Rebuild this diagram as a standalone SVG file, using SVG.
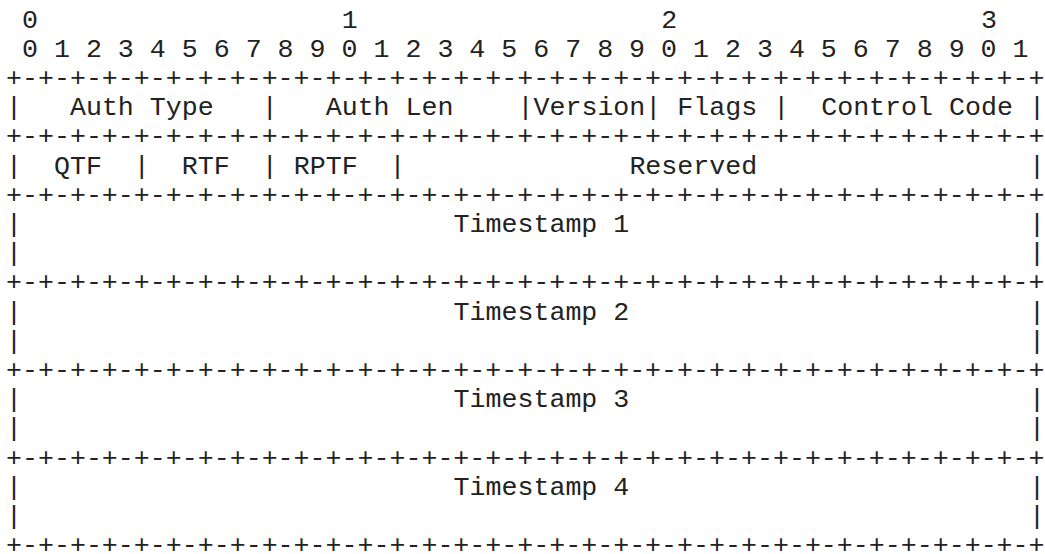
<svg xmlns="http://www.w3.org/2000/svg" width="1045" height="554" viewBox="0 0 1045 554">
<style>
text{font-family:"Liberation Mono","Courier New",monospace;font-size:26.64px;fill:#222;white-space:pre}
</style>
<rect width="1045" height="554" fill="#fff"/>
<g id="ruler">
<text x="21.98" y="27.5">0</text>
<text x="341.66" y="27.5">1</text>
<text x="661.34" y="27.5">2</text>
<text x="981.02" y="27.5">3</text>
<text x="21.98" y="56.7" xml:space="preserve">0 1 2 3 4 5 6 7 8 9 0 1 2 3 4 5 6 7 8 9 0 1 2 3 4 5 6 7 8 9 0 1</text>
</g>
<g id="connectors">
<text x="6" y="85.9">+-+-+-+-+-+-+-+-+-+-+-+-+-+-+-+-+-+-+-+-+-+-+-+-+-+-+-+-+-+-+-+-+</text>
<text x="6" y="144.3">+-+-+-+-+-+-+-+-+-+-+-+-+-+-+-+-+-+-+-+-+-+-+-+-+-+-+-+-+-+-+-+-+</text>
<text x="6" y="202.7">+-+-+-+-+-+-+-+-+-+-+-+-+-+-+-+-+-+-+-+-+-+-+-+-+-+-+-+-+-+-+-+-+</text>
<text x="6" y="290.3">+-+-+-+-+-+-+-+-+-+-+-+-+-+-+-+-+-+-+-+-+-+-+-+-+-+-+-+-+-+-+-+-+</text>
<text x="6" y="377.9">+-+-+-+-+-+-+-+-+-+-+-+-+-+-+-+-+-+-+-+-+-+-+-+-+-+-+-+-+-+-+-+-+</text>
<text x="6" y="465.5">+-+-+-+-+-+-+-+-+-+-+-+-+-+-+-+-+-+-+-+-+-+-+-+-+-+-+-+-+-+-+-+-+</text>
<text x="6" y="553">+-+-+-+-+-+-+-+-+-+-+-+-+-+-+-+-+-+-+-+-+-+-+-+-+-+-+-+-+-+-+-+-+</text>
<text x="6" y="115.1">|</text><text x="261.74" y="115.1">|</text><text x="517.49" y="115.1">|</text><text x="645.36" y="115.1">|</text><text x="773.23" y="115.1">|</text><text x="1028.98" y="115.1">|</text>
<text x="6" y="173.5">|</text><text x="133.87" y="173.5">|</text><text x="261.74" y="173.5">|</text><text x="389.62" y="173.5">|</text><text x="1028.98" y="173.5">|</text>
<text x="6" y="231.9">|</text><text x="1028.98" y="231.9">|</text>
<text x="6" y="261.1">|</text><text x="1028.98" y="261.1">|</text>
<text x="6" y="319.5">|</text><text x="1028.98" y="319.5">|</text>
<text x="6" y="348.7">|</text><text x="1028.98" y="348.7">|</text>
<text x="6" y="407.1">|</text><text x="1028.98" y="407.1">|</text>
<text x="6" y="436.3">|</text><text x="1028.98" y="436.3">|</text>
<text x="6" y="494.7">|</text><text x="1028.98" y="494.7">|</text>
<text x="6" y="523.9">|</text><text x="1028.98" y="523.9">|</text>
</g>
<g id="auth-type"><text x="69.94" y="115.1">Auth Type</text></g>
<g id="auth-len"><text x="325.68" y="115.1">Auth Len</text></g>
<g id="version"><text x="533.47" y="115.1">Version</text></g>
<g id="flags"><text x="677.33" y="115.1">Flags</text></g>
<g id="control-code"><text x="821.18" y="115.1">Control Code</text></g>
<g id="qtf"><text x="53.95" y="173.5">QTF</text></g>
<g id="rtf"><text x="181.82" y="173.5">RTF</text></g>
<g id="rptf"><text x="293.71" y="173.5">RPTF</text></g>
<g id="reserved"><text x="629.38" y="173.5">Reserved</text></g>
<g id="timestamp-1"><text x="453.55" y="231.9">Timestamp 1</text></g>
<g id="timestamp-2"><text x="453.55" y="319.5">Timestamp 2</text></g>
<g id="timestamp-3"><text x="453.55" y="407.1">Timestamp 3</text></g>
<g id="timestamp-4"><text x="453.55" y="494.7">Timestamp 4</text></g>
</svg>
